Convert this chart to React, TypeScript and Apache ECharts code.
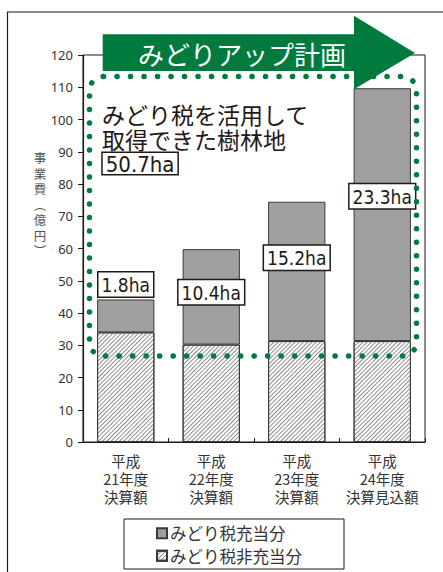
import React, { useEffect, useRef } from 'react';
import * as echarts from 'echarts';

const categories = ['平成\n21年度\n決算額', '平成\n22年度\n決算額', '平成\n23年度\n決算額', '平成\n24年度\n決算見込額'];
const nonTaxValues = [34.0, 30.2, 31.3, 31.3];
const taxValues = [10.2, 29.6, 43.2, 78.4];
const forestLabels = ['1.8ha', '10.4ha', '15.2ha', '23.3ha'];
const seriesNames = ['みどり税充当分', 'みどり税非充当分'];
const yMin = 0;
const yMax = 120;
const yInterval = 10;
const planTitle = 'みどりアップ計画';
const noteLines = ['みどり税を活用して', '取得できた樹林地'];
const totalForest = '50.7ha';
const yAxisTitle = ['事', '業', '費', '︵', '億', '円', '︶'];

// label placement styles (not data)
const labelPlacement = [
  { position: 'top', distance: 3 },
  { position: 'insideTop', distance: 31 },
  { position: 'insideTop', distance: 44 },
  { position: 'insideTop', distance: 96 },
];

const JP = "'Noto Sans CJK JP', 'Noto Sans', sans-serif";
const NARROW = "'Liberation Sans Narrow', 'DejaVu Sans Condensed', 'Noto Sans', sans-serif";
const INK = '#231815';
const GREEN = '#007b3d';

export default function App() {
  const ref = useRef<HTMLDivElement>(null);
  useEffect(() => {
    if (!ref.current) return;
    const chart = echarts.init(ref.current, null, { renderer: 'svg' });
    chart.setOption({
      animation: false,
      backgroundColor: '#ffffff',
      textStyle: { fontFamily: JP },
      grid: {
        left: 83, top: 55, right: 18, bottom: 130,
        show: true, borderColor: INK, borderWidth: 1, backgroundColor: 'transparent',
      },
      legend: {
        orient: 'vertical',
        left: 124, top: 519,
        data: [seriesNames[0], seriesNames[1]],
        icon: 'rect',
        itemWidth: 10, itemHeight: 10, itemGap: 6,
        padding: [6, 42, 5, 32],
        borderColor: INK, borderWidth: 1,
        textStyle: { fontSize: 16.5, color: '#333', fontFamily: JP, padding: [0, 0, 0, -2] },
        selectedMode: false,
      },
      xAxis: {
        type: 'category',
        data: categories,
        axisLine: { lineStyle: { color: INK, width: 1.2 } },
        axisTick: { show: true, inside: true, length: 4, lineStyle: { color: INK } },
        axisLabel: { interval: 0, fontSize: 14.5, lineHeight: 18, color: '#333', margin: 9, fontFamily: JP },
      },
      yAxis: {
        type: 'value',
        min: yMin, max: yMax, interval: yInterval,
        splitLine: { show: false },
        axisLine: { show: true, lineStyle: { color: INK, width: 1.2 } },
        axisTick: { show: true, length: 5, lineStyle: { color: INK } },
        axisLabel: { fontSize: 13, color: '#333', margin: 10, fontFamily: "'Noto Sans', sans-serif" },
      },
      series: [
        {
          name: seriesNames[1],
          type: 'bar',
          stack: 'total',
          barCategoryGap: '33%',
          data: nonTaxValues,
          itemStyle: {
            color: '#ffffff',
            borderColor: '#3a3a3a',
            borderWidth: 1,
            decal: {
              symbol: 'rect',
              dashArrayX: [1, 0],
              dashArrayY: [1, 2],
              rotation: -Math.PI / 4,
              color: '#8e8e8e',
            },
          },
        },
        {
          name: seriesNames[0],
          type: 'bar',
          stack: 'total',
          barCategoryGap: '33%',
          itemStyle: { color: '#a0a0a0', borderColor: '#3a3a3a', borderWidth: 1 },
          data: taxValues.map((v, i) => ({
            value: v,
            label: {
              show: true,
              position: labelPlacement[i].position,
              distance: labelPlacement[i].distance,
              formatter: forestLabels[i],
              fontFamily: NARROW,
              fontSize: 19,
              lineHeight: 21,
              color: INK,
              backgroundColor: '#ffffff',
              borderColor: INK,
              borderWidth: 1.5,
              padding: [2, 3, 1, 3],
            },
          })),
        },
      ],
      graphic: [
        {
          type: 'rect', z: 0, silent: true,
          shape: { x: 7.5, y: 12, width: 700, height: 800 },
          style: { fill: 'none', stroke: INK, lineWidth: 1.2 },
        },
        {
          type: 'rect', z: 50, silent: true,
          shape: { x: 89.5, y: 76.5, width: 327, height: 279.5, r: 14 },
          style: { fill: 'none', stroke: GREEN, lineWidth: 5.5, lineDash: [0.1, 13.4], lineCap: 'round' },
        },
        {
          type: 'polygon', z: 60, silent: true,
          shape: { points: [[102.7, 34.3], [354, 34.3], [354, 15.7], [415, 53], [354, 89.3], [354, 71], [102.7, 71]] },
          style: { fill: GREEN },
        },
        {
          type: 'text', z: 61, silent: true,
          x: 242, y: 53,
          style: { text: planTitle, fill: '#ffffff', font: `26px ${JP}`, align: 'center', verticalAlign: 'middle' },
        },
        {
          type: 'text', z: 61, silent: true,
          x: 102, y: 101,
          style: { text: noteLines.join('\n'), fill: INK, font: `23px ${JP}`, lineHeight: 25.5, align: 'left', verticalAlign: 'top' },
        },
        {
          type: 'text', z: 61, silent: true,
          x: 102.7, y: 153,
          style: {
            text: totalForest, fill: INK, font: `22px ${NARROW}`, lineHeight: 20,
            align: 'left', verticalAlign: 'top',
            backgroundColor: '#ffffff', borderColor: INK, borderWidth: 1.5, padding: [1, 3, 0, 3],
          },
        },
        {
          type: 'text', z: 61, silent: true,
          x: 40, y: 150,
          style: { text: yAxisTitle.join('\n'), fill: '#555', font: `12.5px ${JP}`, lineHeight: 15.5, align: 'center', verticalAlign: 'top' },
        },
      ],
    });
    return () => chart.dispose();
  }, []);
  return <div ref={ref} style={{ position: 'fixed', left: 0, top: 0, width: 443, height: 572 }} />;
}
